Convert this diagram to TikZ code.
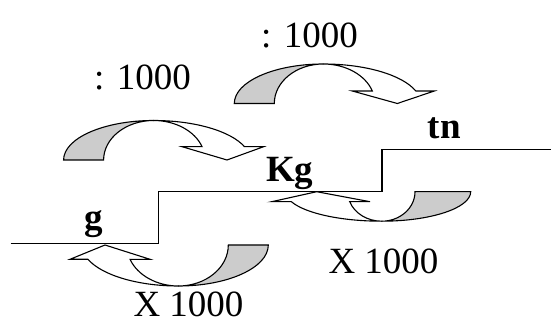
\documentclass[tikz,border=0pt]{standalone}
\usepackage{fontspec}
\setmainfont{Liberation Serif}
\definecolor{shade}{RGB}{204,204,204}
% curved arrow: a1 a2 (shaded back) a3 a4 (front) b h bi bo t
\newcommand\curvarr[9]{%
  \pgfmathsetmacro\thA{asin(#6/#5)}%
  \filldraw[arrline,fill=shade] (-#1,0) arc[start angle=180,end angle=90,x radius=#1,y radius=#5]
     arc[start angle=90,end angle=180,x radius=#2,y radius=#5] -- cycle;
  \filldraw[arrline,fill=white] (0,#5) arc[start angle=90,end angle=\thA,x radius=#3,y radius=#5]
     -- (#8,#6) -- (#9,0) -- (#7,#6) -- ({#4*cos(\thA)},#6)
     arc[start angle=\thA,end angle=90,x radius=#4,y radius=#5] -- cycle;
}
\begin{document}
\begin{tikzpicture}[x=1pt,y=1pt,
  arrline/.style={line width=1.1pt,line join=miter},
  stepline/.style={line width=1.3pt},
  lbl/.style={inner sep=0pt,anchor=base west,font=\fontsize{37}{40}\selectfont},
  blbl/.style={lbl,font=\fontsize{37}{40}\selectfont\bfseries}]
\useasboundingbox (0,0) rectangle (551,-320);
% step line
\coordinate (s0) at (10.5,-243.8);
\coordinate (s1) at (158.5,-243.8);
\coordinate (s2) at (158.5,-191.7);
\coordinate (s3) at (382,-191.7);
\coordinate (s4) at (382,-149.3);
\coordinate (s5) at (551,-149.3);
\draw[stepline] (s0) -- (s1) -- (s2) -- (s3) -- (s4) -- (s5);
% arrows
\begin{scope}[shift={(323.3,-103.5)}]
  \curvarr{89}{49}{97.5}{51.7}{39.5}{12.5}{29}{111}{74}
\end{scope}
\begin{scope}[shift={(153.6,-160)}]
  \curvarr{90}{50}{96.5}{51.5}{39.5}{13.3}{28.5}{110}{73.4}
\end{scope}
\begin{scope}[shift={(178.3,-245)},rotate=180]
  \curvarr{90}{50}{96.4}{51.5}{41}{14.3}{28.3}{108.3}{73.3}
\end{scope}
\begin{scope}[shift={(381.7,-191.7)},rotate=180]
  \curvarr{89}{33.3}{96}{34}{29.5}{10}{11.7}{110}{65}
\end{scope}
% labels
\node[lbl] (d1) at (261,-47.5) {: 1000};
\node[lbl] (d2) at (94,-90) {: 1000};
\node[blbl] (kg) at (266,-181.7) {Kg};
\node[blbl] (tn) at (427.5,-138.3) {tn};
\node[blbl] (g) at (84,-229.8) {g};
\node[lbl] (m1) at (328.3,-273.5) {X 1000};
\node[lbl] (m2) at (133.3,-316.5) {X 1000};
\end{tikzpicture}
\end{document}
